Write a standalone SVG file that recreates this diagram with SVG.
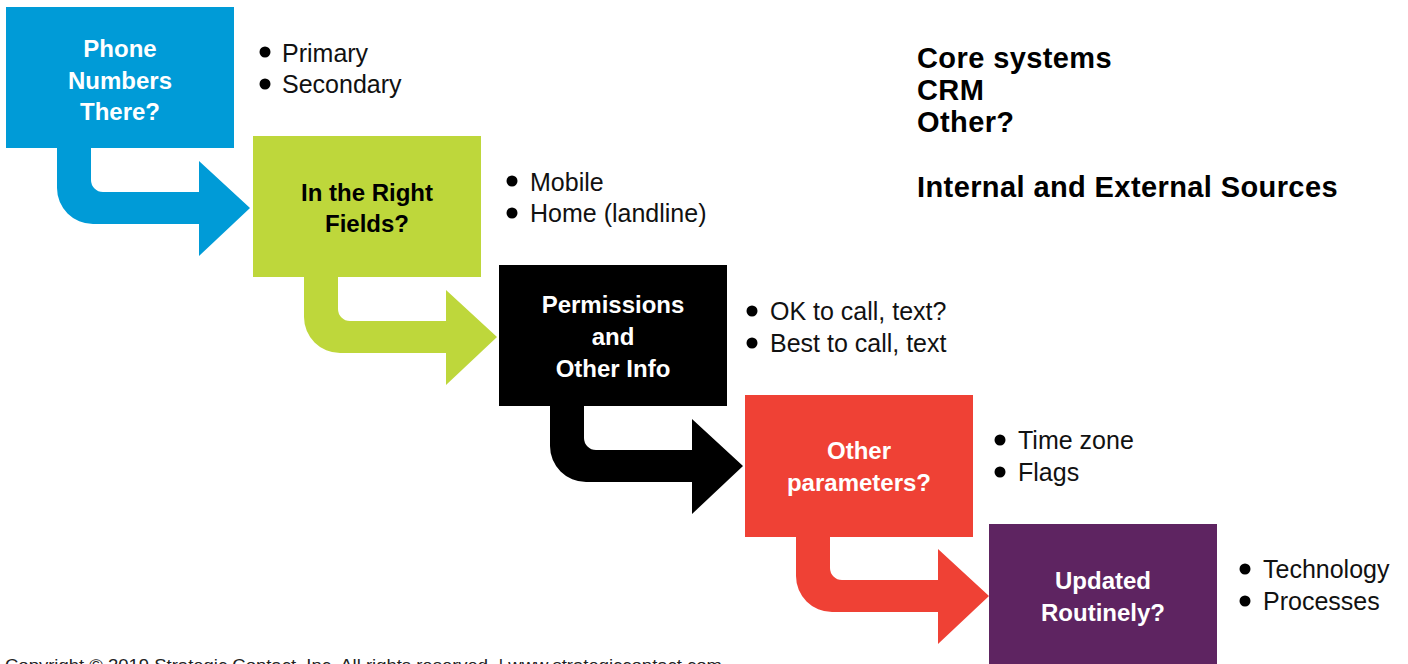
<svg xmlns="http://www.w3.org/2000/svg" width="1408" height="664" viewBox="0 0 1408 664">
  <style>
    .box-label { font-family: "Liberation Sans", Arial, sans-serif; font-weight: bold; font-size: 24px; text-anchor: middle; }
    .light { fill: #ffffff; }
    .dark { fill: #000000; }
    .item { font-family: "Liberation Sans", Arial, sans-serif; font-size: 25px; fill: #111111; }
    .dot { fill: #000000; }
    .side { font-family: "Liberation Sans", Arial, sans-serif; font-weight: bold; font-size: 29px; letter-spacing: 0.4px; fill: #000000; }
    .copy { font-family: "Liberation Sans", Arial, sans-serif; font-size: 16px; fill: #222222; }
  </style>
  <defs>
    <!-- bent arrow, coordinates relative to the top-left corner of its source box -->
    <path id="bent-arrow" d="M 51 139 V 181 A 36 36 0 0 0 87 217 H 193 V 249 L 244 201 L 193 154 V 185 H 97 A 12 12 0 0 1 85 173 V 139 Z"/>
  </defs>

  <rect width="1408" height="664" fill="#ffffff"/>

  <!-- connectors -->
  <g id="connectors">
    <use href="#bent-arrow" transform="translate(6,7)" fill="#009BD7"/>
    <use href="#bent-arrow" transform="translate(253,136)" fill="#BED73B"/>
    <use href="#bent-arrow" transform="translate(499,265)" fill="#000000"/>
    <use href="#bent-arrow" transform="translate(745,395)" fill="#EF4135"/>
  </g>

  <g id="node-phone-numbers">
    <rect x="6" y="7" width="228" height="141" fill="#009BD7"/>
    <text class="box-label light" x="120" y="57">Phone</text>
    <text class="box-label light" x="120" y="89">Numbers</text>
    <text class="box-label light" x="120" y="120">There?</text>
  </g>

  <g id="node-right-fields">
    <rect x="253" y="136" width="228" height="141" fill="#BED73B"/>
    <text class="box-label dark" x="367" y="201">In the Right</text>
    <text class="box-label dark" x="367" y="232">Fields?</text>
  </g>

  <g id="node-permissions">
    <rect x="499" y="265" width="228" height="141" fill="#000000"/>
    <text class="box-label light" x="613" y="313">Permissions</text>
    <text class="box-label light" x="613" y="345">and</text>
    <text class="box-label light" x="613" y="377">Other Info</text>
  </g>

  <g id="node-other-parameters">
    <rect x="745" y="395" width="228" height="142" fill="#EF4135"/>
    <text class="box-label light" x="859" y="459">Other</text>
    <text class="box-label light" x="859" y="491">parameters?</text>
  </g>

  <g id="node-updated">
    <rect x="989" y="524" width="228" height="145" fill="#5E2461"/>
    <text class="box-label light" x="1103" y="589">Updated</text>
    <text class="box-label light" x="1103" y="621">Routinely?</text>
  </g>

  <!-- bullet lists beside each step -->
  <g id="list-phone-numbers">
    <circle class="dot" cx="265" cy="52" r="5.5"/>
    <text class="item" x="282" y="62">Primary</text>
    <circle class="dot" cx="265" cy="84" r="5.5"/>
    <text class="item" x="282" y="93">Secondary</text>
  </g>
  <g id="list-right-fields">
    <circle class="dot" cx="512" cy="181" r="5.5"/>
    <text class="item" x="530" y="191">Mobile</text>
    <circle class="dot" cx="512" cy="213" r="5.5"/>
    <text class="item" x="530" y="222">Home (landline)</text>
  </g>
  <g id="list-permissions">
    <circle class="dot" cx="752" cy="311" r="5.5"/>
    <text class="item" x="770" y="320">OK to call, text?</text>
    <circle class="dot" cx="752" cy="343" r="5.5"/>
    <text class="item" x="770" y="352">Best to call, text</text>
  </g>
  <g id="list-other-parameters">
    <circle class="dot" cx="1000" cy="440" r="5.5"/>
    <text class="item" x="1018" y="449">Time zone</text>
    <circle class="dot" cx="1000" cy="472" r="5.5"/>
    <text class="item" x="1018" y="481">Flags</text>
  </g>
  <g id="list-updated">
    <circle class="dot" cx="1245" cy="569" r="5.5"/>
    <text class="item" x="1263" y="578">Technology</text>
    <circle class="dot" cx="1245" cy="601" r="5.5"/>
    <text class="item" x="1263" y="610">Processes</text>
  </g>

  <g id="sources">
    <text class="side" x="917" y="68">Core systems</text>
    <text class="side" x="917" y="100">CRM</text>
    <text class="side" x="917" y="132">Other?</text>
    <text class="side" x="917" y="197">Internal and External Sources</text>
  </g>

  <text class="copy" x="5" y="671" textLength="717" lengthAdjust="spacingAndGlyphs">Copyright © 2019 Strategic Contact, Inc. All rights reserved. | www.strategiccontact.com</text>
</svg>
